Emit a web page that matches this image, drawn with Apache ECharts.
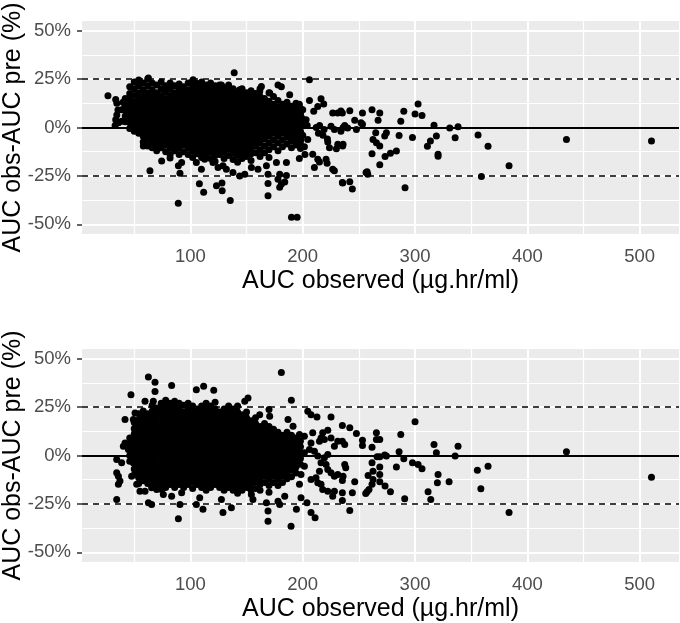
<!DOCTYPE html>
<html>
<head>
<meta charset="utf-8">
<script src="https://cdn.jsdelivr.net/npm/echarts@6/dist/echarts.min.js"></script>
<style>
  html, body { margin: 0; padding: 0; background: #fff; }
  #chart { width: 680px; height: 623px; }
</style>
</head>
<body>
<div id="chart"></div>
<script>
// tick values
var xTicks = [100, 200, 300, 400, 500];
var xMinor = [50, 150, 250, 350, 450];
var yTicks = [-50, -25, 0, 25, 50];
var yMinor = [-37.5, -12.5, 12.5, 37.5];
var limitLines = [-25, 25];

// ---- top panel: sparse points [AUC observed, % diff]
var topSparse = [
  [26.6, 16.4], [33.5, 14.5], [34.5, 12.5], [35.5, 9], [34.5, 6.5], [33.5, 4], [33, 1], [36, 2.5],
  [38.8, 3.2], [41.8, 10.9], [38.8, 9.2], [40, 13],
  [64, -22.4], [72.9, -10.4], [74.4, -17.3], [81.9, -15.8], [89.3, -19.8], [92.2, -18.1],
  [89.2, -39.1], [90.7, -23.6], [58.1, -9.6], [61, -9.2], [62.6, 25.5],
  [135.5, -37.7], [139, 28.3], [111.8, -33.5], [108, -29], [123.2, -30.1], [128.3, -32.7],
  [128.1, -28.7], [169.1, -35.2], [169.1, -28.9], [190, -46.3], [195, -46.3],
  [179.5, -24.1], [178, -26.7], [181, -29.2], [179.5, -30.9], [184, -28.2], [185.5, -24.8],
  [143.9, -25], [148.4, -24.1], [137.9, -23.2], [132, -21.5], [120.1, -18.1], [112.7, -16.4],
  [109.8, -21.5], [105.3, -18.1], [129, -19.8], [124.6, -20.7], [154.3, -20.7], [160.2, -21.5],
  [167.7, -19.8], [176.6, -18.1], [185.5, -18.1], [169.1, -24.1],
  [178, 22], [181, 21], [188.4, 16.9], [170.6, 17.8], [163.2, 21.2], [161.7, 18.6],
  [127.6, 22], [105.3, 22.9], [102.4, 24.6], [143.9, 19.5],
  [206, 24.6], [206, 14], [216.3, 14.9], [218.7, 12.2], [213.4, 10.9], [209.8, 8.4], [200, 9.2],
  [226.7, 7.5], [231.2, 7.5], [225.2, 0.7], [228.2, -1], [215, 1], [219, -1], [212, 0],
  [214, -3], [218, -4], [222, -6], [231.2, -8.7], [230, -11], [222.3, -7.5], [223.8, -10.4],
  [208.9, -13.8], [213.4, -16.4], [214.9, -17.8], [220.8, -16.4], [221.7, -18.5], [210.4, -20.7],
  [226.7, -21.5], [228.2, -22.4], [198, -10.9], [201.5, -9.9], [204.5, -6.2], [198.5, -6.2],
  [197, 12], [199, 5], [201, 2], [197, -2], [200, -4], [203, 4], [198, 8], [204, 1],
  [196, -8], [202, -14], [197, -16],
  [510.5, -7], [434.8, -6.2], [383.7, -19.8], [359.1, -25.3], [365, -9.7], [356.1, -3.9],
  [338.3, 0.4], [335.7, -5.3], [330.9, -0.3], [316.9, 1.2], [319, -4.4], [313.7, -7],
  [311, -9.7], [320.5, -13.8], [320.5, -14.8], [302.7, 12.1], [300, 7], [306.2, 6.2],
  [290, 8.4], [287.3, 3.2], [285.8, -4.1], [297.7, -5.1], [291.1, -31.1], [283.4, -12.1],
  [278.1, -13.3], [273.3, -15], [268.6, -19.3], [257.3, -22.9], [261.7, 9.2], [268.6, 7.5],
  [267.1, 3.8], [274.5, -2.7], [273, -4.4], [265, -2.7], [262.6, -6.2], [265.6, -7.9],
  [268.6, -9.6], [261.7, -13.5], [253.2, 7.5], [253.2, 1.7], [246.3, 3.8], [247.8, -1],
  [241.9, 8.7], [235.3, 7.5], [237.4, 1], [235.9, -8.7], [235.3, -28.4], [241.9, -28],
  [244.2, -31.8], [251.9, 2.4], [240, -0.2], [234, 8.5], [236, 0], [234, -2], [235.6, -9.6],
  [256.4, -23.2], [257.9, -24.1], [235.6, -28.7]
];

// ---- top panel: dense cloud, one column of values per x
var topCloudX = [42, 46, 50, 54, 58, 62, 66, 70, 74, 78, 82, 86, 90, 94, 98, 102, 106, 110,
  114, 118, 122, 126, 130, 134, 138, 142, 146, 150, 154, 158, 162, 166, 170, 174, 178, 182,
  186, 190, 194, 198];
var topCloudY = [
  [15, 12, 9, 6, 3],
  [21, 17.5, 14.5, 11.5, 8.5, 5.5, 2.5, -0.5],
  [23.5, 20, 16.5, 13, 10, 7, 4, 1, -2],
  [24.5, 21.5, 18, 15, 12, 9, 6, 3, 0, -3],
  [23, 19.5, 16.5, 13.5, 10.5, 7.5, 4.5, 1.5, -1.5, -4.5, -7.5],
  [25, 21.5, 18, 15, 12, 9, 6, 3, 0, -3, -6, -9.5],
  [23, 19.5, 16.5, 13.5, 10.5, 7.5, 4.5, 1.5, -1.5, -4.5, -7.5, -10.5],
  [22, 18, 15, 12, 9, 6, 3, 0, -3, -6, -9, -12],
  [23.5, 20, 16.5, 13.5, 10.5, 7.5, 4.5, 1.5, -1.5, -4.5, -7.5, -10.5],
  [21.5, 18.5, 15, 12, 9, 6, 3, 0, -3, -6, -9, -12.5],
  [23, 20, 16.5, 13.5, 10.5, 7.5, 4.5, 1.5, -1.5, -4.5, -7.5, -10.5, -14],
  [21.5, 18, 15, 12, 9, 6, 3, 0, -3, -6, -9, -12],
  [22.5, 19.5, 16.5, 13.5, 10.5, 7.5, 4.5, 1.5, -1.5, -4.5, -7.5, -10.5, -14],
  [21, 18, 15, 12, 9, 6, 3, 0, -3, -6, -9, -12.5],
  [23, 19.5, 16.5, 13.5, 10.5, 7.5, 4.5, 1.5, -1.5, -4.5, -7.5, -10.5, -14],
  [24, 21, 18, 15, 12, 9, 6, 3, 0, -3, -6, -9, -12, -15.5],
  [22.5, 19.5, 16.5, 13.5, 10.5, 7.5, 4.5, 1.5, -1.5, -4.5, -7.5, -10.5, -13.5],
  [23.5, 20.5, 17.5, 14.5, 11.5, 8.5, 5.5, 2.5, -0.5, -3.5, -6.5, -9.5, -12.5, -15.5],
  [22, 19, 16, 13, 10, 7, 4, 1, -2, -5, -8, -11, -14],
  [23, 20.5, 17.5, 14.5, 11.5, 8.5, 5.5, 2.5, -0.5, -3.5, -6.5, -9.5, -12.5, -16],
  [21.5, 18.5, 15.5, 12.5, 9.5, 6.5, 3.5, 0.5, -2.5, -5.5, -8.5, -11.5, -14.5, -17.5],
  [22, 19, 16, 13, 10, 7, 4, 1, -2, -5, -8, -11, -14],
  [20.5, 17.5, 14.5, 11.5, 8.5, 5.5, 2.5, -0.5, -3.5, -6.5, -9.5, -12.5, -16],
  [22, 19, 16, 13, 10, 7, 4, 1, -2, -5, -8, -11, -14.5],
  [20, 17, 14, 11, 8, 5, 2, -1, -4, -7, -10, -13, -16.5],
  [18.5, 15.5, 12.5, 9.5, 6.5, 3.5, 0.5, -2.5, -5.5, -8.5, -11.5, -14.5, -18],
  [20, 17, 14, 11, 8, 5, 2, -1, -4, -7, -10, -13, -16],
  [18, 15, 12, 9, 6, 3, 0, -3, -6, -9, -12, -15],
  [19, 16.5, 13.5, 10.5, 7.5, 4.5, 1.5, -1.5, -4.5, -7.5, -10.5, -13.5, -17],
  [17.5, 14.5, 11.5, 8.5, 5.5, 2.5, -0.5, -3.5, -6.5, -9.5, -13],
  [20, 16, 13, 10, 7, 4, 1, -2, -5, -8, -11.5, -15],
  [15, 12, 9, 6, 3, 0, -3, -6, -9.5, -13],
  [18, 13.5, 10.5, 7.5, 4.5, 1.5, -1.5, -4.5, -8, -11.5, -15.5],
  [16, 12, 9, 6, 3, 0, -3, -6.5, -10],
  [14, 10.5, 7.5, 4.5, 1.5, -1.5, -4.5, -8, -12],
  [12, 9, 6, 3, 0, -3, -6.5, -10],
  [13, 10, 7, 4, 1, -2, -5, -8.5],
  [11, 8, 5, 2, -1, -4, -7, -10.5],
  [12.5, 9.5, 6.5, 3.5, 0.5, -2.5, -5.5, -9],
  [10, 7, 4, 1, -2, -5, -8.5]
];

// ---- bottom panel: sparse points
var bottomSparse = [
  [34.4, -2.1], [38.8, -3.8], [34.4, -8.9], [35.9, -10.7], [37.3, -13.2], [35.9, -14.9],
  [34.4, -22.7], [41.8, 18.6], [50.7, 22], [49.2, 18.6], [50.7, 12.5], [41.8, 6.5], [40.3, 4.8],
  [44.8, 3.1], [47.7, -10.7], [50.7, -7.2], [49.2, -3.8], [52.2, -14.9], [55.1, -18.4],
  [59.6, -18.4], [65.5, -16.6], [74.4, -17.5], [62.6, -24.4], [65.5, -25.3], [90.7, -25.3],
  [89.3, -32.6], [92.2, -19.2], [83.3, -21], [75.9, -20.1],
  [62.6, 40.6], [68.5, 37.8], [83.3, 36.1], [68.5, 33.1], [47.1, 31.4], [59.6, 28], [67, 28],
  [105.3, 34], [111.8, 35.7], [120.8, 33.7], [151.3, 29.7], [148.4, 28], [189.9, 28.5],
  [161.7, 21.1], [170, 23.7], [170.6, 20.3], [186.9, 18.6], [191.4, 15.1], [181, 42.9],
  [169.1, -33.9], [189.6, -36.6], [111.2, -27.8], [129, -29.5], [136.5, -27], [108.3, -21.8],
  [127.6, -22.7], [105.3, -25.3], [154.3, -20.1], [155.7, -22.7], [167.7, -24.4], [169.1, -28.7],
  [178, -23.6], [179.5, -25.3], [184, -21], [194.4, -27.8],
  [204.5, 22.8], [207.4, 21.1], [212.7, 19.9], [225.2, 19.9], [208.9, 11.7], [201.5, 9.9],
  [197.1, 10.8], [217.8, 11.7], [216.3, 9.1], [219.3, 8.2], [214.9, 7.4], [222.3, 13],
  [225.2, 9.1], [231.2, 7.4], [228.2, 4.8], [207.4, 6.5], [206, 3.1], [210.4, 2.2], [201.5, 1.4],
  [197.1, 4.8], [213.4, -0.3], [219.3, -1.2], [222.3, 0.5], [216.3, -3.8], [220.8, -4.6],
  [222.3, -7.2], [225.2, -8.9], [228.2, -10.7], [231.2, -9.8], [207.4, -12.4], [211.8, -11.5],
  [213.4, -14.1], [216.3, -14.9], [214.9, -8.1], [201.5, -5.5], [198.5, -9.8], [197.1, -14.9],
  [217.8, -17.5], [222.3, -18.4], [226.7, -21], [228.2, -18.4], [207.4, -29.5], [211, -32.1],
  [203.8, -24.4], [198.5, -21.8],
  [510.5, -11.2], [434.8, 1.9], [383.7, -29.5], [358.6, -17.2], [355.5, -7.6], [365, -5.5],
  [338.3, 4.8], [335.7, -0.3], [330.3, -13.6], [316.9, 5.7], [319, 1.4], [320.5, -9.8],
  [319.9, -14.1], [311.6, -18.7], [314, -22.7], [300, 17.4], [297.7, -3.8], [302.7, -4.6],
  [306.2, -6.9], [290.8, -22.3], [287.3, 10.8], [285.8, 1.9], [290, -1.7], [283.4, -6],
  [278.1, -18.7], [273.3, -15.8], [268.6, -13.6], [268.6, -9.8], [268.6, -6], [266.2, -0.7],
  [268.6, -0.7], [273, 0.2], [274.5, -0.3], [265.6, 8.2], [268.6, 8.2], [265.6, 11.7],
  [261.7, 4.3], [261.7, -3.8], [262.6, -8.1], [258.2, -10.3], [262.6, -12.4], [261.7, -14.9],
  [257.3, -18.7], [259, -17.5], [256.1, -19.6], [253.2, 7.9], [253.2, 5.2], [247.8, 11.3],
  [241.9, 14.3], [235.3, 15.5], [237.4, 5.7], [235.3, 7.4], [237.4, -4.6], [238.3, -6.3],
  [235.9, -10.7], [235.3, -12.9], [246.3, -13.6], [244.2, -19.2], [235.3, -19.2],
  [235.3, -23.2], [241.9, -28.4]
];

// ---- bottom panel: dense cloud
var bottomCloudX = [46, 50, 54, 58, 62, 66, 70, 74, 78, 82, 86, 90, 94, 98, 102, 106, 110,
  114, 118, 122, 126, 130, 134, 138, 142, 146, 150, 154, 158, 162, 166, 170, 174, 178, 182,
  186, 190, 194, 198];
var bottomCloudY = [
  [9, 6, 3, 0, -3],
  [17, 14, 11, 8, 5, 2, -1, -4, -7, -10],
  [21.5, 18.5, 15.5, 12.5, 9.5, 6.5, 3.5, 0.5, -2.5, -5.5, -8.5, -11.5, -14.5],
  [23, 20, 17, 14, 11, 8, 5, 2, -1, -4, -7, -10, -13],
  [21.5, 18.5, 15.5, 12.5, 9.5, 6.5, 3.5, 0.5, -2.5, -5.5, -8.5, -11.5, -14.5],
  [26, 23, 20, 17, 14, 11, 8, 5, 2, -1, -4, -7, -10, -13, -16],
  [24.5, 21.5, 18.5, 15.5, 12.5, 9.5, 6.5, 3.5, 0.5, -2.5, -5.5, -8.5, -11.5, -14.5, -17.5],
  [27, 24, 21, 18, 15, 12, 9, 6, 3, 0, -3, -6, -9, -12, -15],
  [28.5, 25.5, 22.5, 19.5, 16.5, 13.5, 10.5, 7.5, 4.5, 1.5, -1.5, -4.5, -7.5, -10.5, -13.5, -16.5],
  [27, 24, 21, 18, 15, 12, 9, 6, 3, 0, -3, -6, -9, -12, -15],
  [28, 25.5, 22.5, 19.5, 16.5, 13.5, 10.5, 7.5, 4.5, 1.5, -1.5, -4.5, -7.5, -10.5, -13.5, -16.5],
  [27, 24, 21, 18, 15, 12, 9, 6, 3, 0, -3, -6, -9, -12, -15],
  [26, 22.5, 19.5, 16.5, 13.5, 10.5, 7.5, 4.5, 1.5, -1.5, -4.5, -7.5, -10.5, -13.5, -16.5],
  [27, 24, 21, 18, 15, 12, 9, 6, 3, 0, -3, -6, -9, -12, -15],
  [25.5, 22.5, 19.5, 16.5, 13.5, 10.5, 7.5, 4.5, 1.5, -1.5, -4.5, -7.5, -10.5, -13.5, -17],
  [24, 21, 18, 15, 12, 9, 6, 3, 0, -3, -6, -9, -12, -15],
  [25.5, 22.5, 19.5, 16.5, 13.5, 10.5, 7.5, 4.5, 1.5, -1.5, -4.5, -7.5, -10.5, -13.5, -16.5],
  [27, 24, 21, 18, 15, 12, 9, 6, 3, 0, -3, -6, -9, -12, -15, -18],
  [25.5, 22.5, 19.5, 16.5, 13.5, 10.5, 7.5, 4.5, 1.5, -1.5, -4.5, -7.5, -10.5, -13.5, -16.5],
  [27.5, 24, 21, 18, 15, 12, 9, 6, 3, 0, -3, -6, -9, -12, -15],
  [22.5, 19.5, 16.5, 13.5, 10.5, 7.5, 4.5, 1.5, -1.5, -4.5, -7.5, -10.5, -13.5, -16.5],
  [24, 21, 18, 15, 12, 9, 6, 3, 0, -3, -6, -9, -12, -15, -18],
  [25.5, 22.5, 19.5, 16.5, 13.5, 10.5, 7.5, 4.5, 1.5, -1.5, -4.5, -7.5, -10.5, -13.5, -16.5],
  [24, 21, 18, 15, 12, 9, 6, 3, 0, -3, -6, -9, -12, -15, -18],
  [25.5, 22.5, 19.5, 16.5, 13.5, 10.5, 7.5, 4.5, 1.5, -1.5, -4.5, -7.5, -10.5, -13.5, -16.5, -19.5],
  [21, 18, 15, 12, 9, 6, 3, 0, -3, -6, -9, -12, -15, -18],
  [22.5, 19.5, 16.5, 13.5, 10.5, 7.5, 4.5, 1.5, -1.5, -4.5, -7.5, -10.5, -13.5, -16.5],
  [18, 15, 12, 9, 6, 3, 0, -3, -6, -9, -12, -15, -18],
  [19.5, 16.5, 13.5, 10.5, 7.5, 4.5, 1.5, -1.5, -4.5, -7.5, -10.5, -13.5, -17],
  [15, 12, 9, 6, 3, 0, -3, -6, -9, -12, -15, -18],
  [16.5, 13.5, 10.5, 7.5, 4.5, 1.5, -1.5, -4.5, -7.5, -10.5, -14],
  [15, 12, 9, 6, 3, 0, -3, -6, -9, -12, -15.5, -19],
  [13.5, 10.5, 7.5, 4.5, 1.5, -1.5, -4.5, -7.5, -10.5, -14],
  [12, 9, 6, 3, 0, -3, -6, -9, -12, -15.5],
  [10.5, 7.5, 4.5, 1.5, -1.5, -4.5, -7.5, -10.5, -14],
  [12, 9, 6, 3, 0, -3, -6, -9, -12],
  [10.5, 7.5, 4.5, 1.5, -1.5, -4.5, -7.5, -11],
  [9, 6, 3, 0, -3, -6, -9],
  [7.5, 4.5, 1.5, -1.5, -4.5]
];

function cloudPoints(xs, ys) {
  var pts = [];
  xs.forEach(function (x, i) {
    ys[i].forEach(function (y) { pts.push([x, y]); });
  });
  return pts;
}

var topData = topSparse.concat(cloudPoints(topCloudX, topCloudY));
var bottomData = bottomSparse.concat(cloudPoints(bottomCloudX, bottomCloudY));

var font = 'Liberation Sans, Arial, sans-serif';

function makeXAxis(idx) {
  return {
    type: 'value', gridIndex: idx, min: 3.5, max: 535,
    name: 'AUC observed (\u00b5g.hr/ml)', nameLocation: 'middle', nameGap: 35,
    nameMoveOverlap: false,
    nameTextStyle: { fontSize: 25, color: '#000', fontFamily: font },
    axisLine: { show: false },
    splitLine: { show: false },
    axisTick: { show: true, customValues: xTicks, length: 5, lineStyle: { color: '#333', width: 1.5 } },
    axisLabel: { customValues: xTicks, margin: 13, fontSize: 18.5, color: '#4d4d4d', fontFamily: font }
  };
}

function makeYAxis(idx) {
  return {
    type: 'value', gridIndex: idx, min: -55, max: 55,
    name: 'AUC obs-AUC pre (%)', nameLocation: 'middle', nameGap: 56,
    nameMoveOverlap: false,
    nameTextStyle: { fontSize: 25, color: '#000', fontFamily: font },
    axisLine: { show: false },
    splitLine: { show: false },
    axisTick: { show: true, customValues: yTicks, length: 5, lineStyle: { color: '#333', width: 1.5 } },
    axisLabel: {
      customValues: yTicks, margin: 11, fontSize: 18.5, color: '#4d4d4d', fontFamily: font,
      formatter: function (v) { return v + '%'; }
    }
  };
}

function gridLineSeries(idx) {
  var data = [];
  xMinor.forEach(function (v) { data.push({ xAxis: v, lineStyle: { width: 1.2 } }); });
  yMinor.forEach(function (v) { data.push({ yAxis: v, lineStyle: { width: 1.2 } }); });
  xTicks.forEach(function (v) { data.push({ xAxis: v, lineStyle: { width: 2 } }); });
  yTicks.forEach(function (v) { data.push({ yAxis: v, lineStyle: { width: 2 } }); });
  return {
    type: 'scatter', xAxisIndex: idx, yAxisIndex: idx, data: [], z: 1,
    markLine: {
      silent: true, symbol: ['none', 'none'], label: { show: false }, z: 1,
      lineStyle: { color: '#ffffff', type: 'solid' }, data: data
    }
  };
}

function refLineSeries(idx) {
  var data = [{ yAxis: 0, lineStyle: { type: 'solid', width: 1.8 } }];
  limitLines.forEach(function (v) { data.push({ yAxis: v, lineStyle: { type: [6, 5] } }); });
  return {
    type: 'scatter', xAxisIndex: idx, yAxisIndex: idx, data: [], z: 2,
    markLine: {
      silent: true, symbol: ['none', 'none'], label: { show: false }, z: 2,
      lineStyle: { color: '#000', width: 1.6 }, data: data
    }
  };
}

function pointSeries(idx, data) {
  return {
    type: 'scatter', xAxisIndex: idx, yAxisIndex: idx, data: data, z: 3,
    symbol: 'circle', symbolSize: 7,
    itemStyle: { color: '#000', opacity: 1 }
  };
}

var chart = echarts.init(document.getElementById('chart'));
var option = {
  animation: false,
  backgroundColor: '#fff',
  grid: [
    { left: 82, top: 21, width: 597, height: 213, show: true, backgroundColor: '#ebebeb', borderWidth: 0, outerBoundsMode: 'none', containLabel: false },
    { left: 82, top: 349, width: 597, height: 213, show: true, backgroundColor: '#ebebeb', borderWidth: 0, outerBoundsMode: 'none', containLabel: false }
  ],
  xAxis: [makeXAxis(0), makeXAxis(1)],
  yAxis: [makeYAxis(0), makeYAxis(1)],
  series: [
    gridLineSeries(0), gridLineSeries(1),
    refLineSeries(0), refLineSeries(1),
    pointSeries(0, topData), pointSeries(1, bottomData)
  ]
};
chart.setOption(option);
</script>
</body>
</html>
